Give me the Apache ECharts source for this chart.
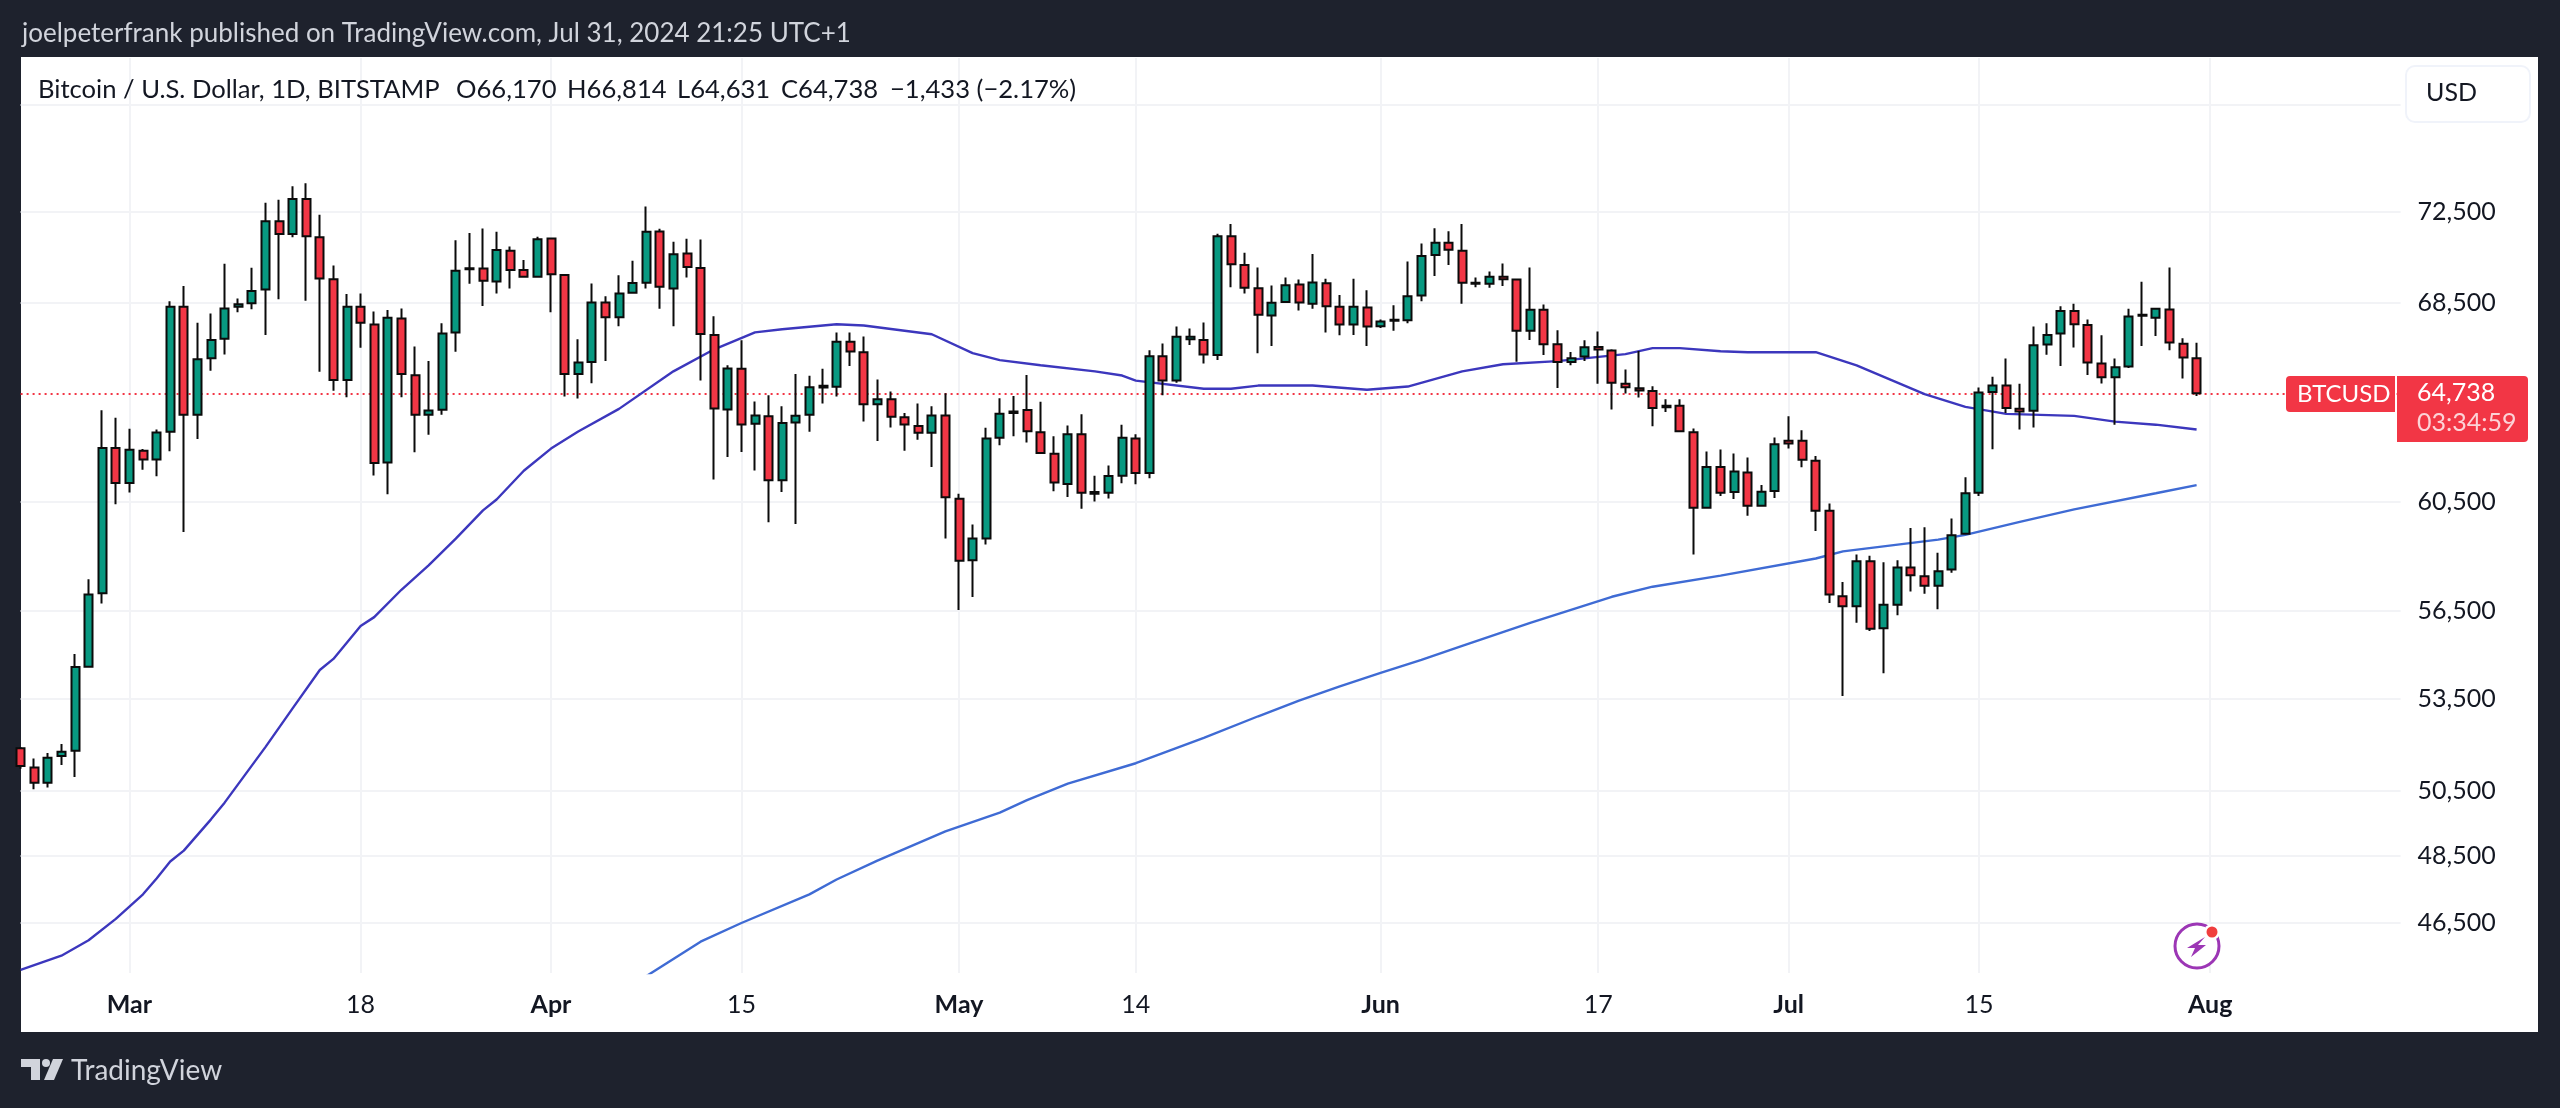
<!DOCTYPE html>
<html><head><meta charset="utf-8"><title>BTCUSD</title>
<style>html,body{margin:0;height:100%;background:#1e222d}#c{width:2560px;height:1108px}</style>
<script src="https://cdn.jsdelivr.net/npm/echarts@6/dist/echarts.min.js"></script>
</head><body><div id="c"></div>
<script>
// Daily candles [open, close, low, high], first row = 2024-02-22
const candles = [
[51860,51290,51200,51900],[51240,50760,50550,51530],[50760,51560,50610,51710],[51610,51750,51320,52000],[51780,54560,50940,55010],[54570,57090,54570,57640],[57140,62560,56770,64050],[62560,61210,60400,63760],
[61210,62490,60850,63320],[62450,62110,61720,62520],[62110,63170,61470,63290],[63200,68330,62440,68570],[68330,63880,59360,69220],[63880,66130,62910,67650],[66170,66930,65660,68050],[66980,68260,66320,70190],[68330,68440,68100,68690],[68480,69010,68230,70020],[69070,72080,67140,72920],[72080,71510,68650,73060],[71510,73090,71370,73670],[73090,71410,68590,73810],[71360,69550,65610,72370],[69520,65280,64840,70120],[65280,68330,64580,68880],[68330,67650,66600,68900],[67580,61980,61500,68130],[62000,67860,60780,68190],[67830,65520,64580,68260],[65470,63880,62400,66660],[63880,64040,63080,66060],[64070,67200,63880,67630],[67240,69890,66440,71230],[69950,70000,69320,71560],[69980,69450,68360,71760],[69420,70800,68900,71610],[70770,69920,69120,70950],[69920,69630,69630,70360],[69630,71280,69630,71390],
[71310,69730,68100,71310],[69700,65520,64610,69700],[65520,65990,64530,66960],[66020,68510,65140,69330],[68510,67890,66060,68780],[67890,68900,67510,69690],[68930,69350,68930,70320],[69370,71610,69120,72750],[71620,69190,68250,71740],[69120,70610,67510,71170],[70640,70050,69590,71300],[70010,67180,65260,71270],[67140,64120,61340,67930],[64080,65750,62210,65880],[65740,63490,62410,66920],[63520,63850,61690,64410],[63820,61310,59730,64660],[61310,63550,60870,64220],[63570,63840,59660,65520],[63880,64980,63200,65450],[65040,64970,64330,65740],[65000,66850,64610,67240],[66850,66450,65850,67240],[66420,64300,63610,67070],[64300,64500,62840,65300],[64500,63800,63370,64810],[63780,63490,62450,63940],[63430,63160,62890,64330],[63160,63850,61820,64220],[63850,60670,59120,64740],
[60610,58310,56540,60800],[58330,59120,57000,59640],[59120,62930,58900,63360],[62960,63910,62670,64540],[63940,64000,63020,64630],[64060,63220,62780,65480],[63180,62370,62370,64400],[62340,61230,60890,63020],[61170,63100,60680,63450],[63100,60840,60230,63900],[60870,60800,60510,61490],[60840,61480,60620,61880],[61490,62960,61200,63480],[62930,61590,61160,63100],[61590,66250,61390,66500],[66250,65260,64660,66780],[65260,67060,65160,67490],[66960,67060,66720,67410],[66930,66320,65950,67660],[66300,71410,66100,71520],[71410,70170,69170,71960],[70140,69150,68900,70680],[69130,67990,66380,70030],[67960,68500,66680,69250],[68540,69260,68540,69590],[69290,68510,68170,69510],[68460,69380,68250,70620],[69340,68350,67240,69540],[68330,67580,67130,68840],[67580,68330,67140,69540],[68300,67500,66680,69040],
[67510,67710,67430,67790],[67740,67780,67320,68400],[67760,68780,67630,70290],[68810,70530,68570,71090],[70580,71120,69660,71770],[71120,70810,70140,71630],[70770,69370,68460,71960],[69370,69320,69170,69590],[69320,69630,69150,69850],[69630,69520,69220,70200],[69510,67320,66030,69510],[67320,68210,66930,70030],[68210,66750,66300,68430],[66750,66020,64950,67340],[66020,66170,65880,66430],[66240,66630,66060,66920],[66640,66530,65120,67280],[66490,65160,64080,66540],[65120,64980,64730,65710],[64940,64850,64570,66470],[64830,64140,63420,65020],[64240,64180,63980,64500],[64240,63220,63220,64500],[63180,60270,58540,63330],[60270,61820,60270,62430],[61820,60840,60710,62500],[60870,61650,60600,62350],[61610,60350,59970,62190],[60350,60880,60350,61130],[60900,62710,60640,62970],
[62850,62740,62540,63820],[62850,62100,61810,63260],[62070,60160,59400,62250],[60160,57090,56790,60430],[57030,56670,53580,57540],[56670,58290,56090,58540],[58290,55880,55800,58490],[55900,56730,54350,58250],[56730,58060,56360,58330],[58060,57780,57200,59510],[57750,57400,57120,59540],[57400,57930,56570,58600],[57990,59240,57870,59870],[59300,60820,59300,61430],[60840,64770,60710,64970],[64790,65050,62510,65410],[65050,64140,63940,66160],[64110,64000,63290,65120],[64030,66710,63370,67490],[66740,67140,66310,67630],[67200,68150,65850,68350],[68150,67590,66620,68460],[67560,65990,65480,67790],[65950,65390,65130,67130],[65390,65800,63480,66160],[65830,67920,65770,68250],[67950,67990,66680,69410],[67860,68250,67100,68280],[68220,66820,66500,70030],[66770,66200,65340,67000],[66170,64738,64631,66814]
];
// Moving averages, read at the day index (0 = Feb 22) of each reading
const fastDays = [0,3,5,7,9,10,11,12,14,15,18,20,22,23,25,26,28,30,32,34,35,37,39,41,44,48,51,54,56,60,62,67,70,72,75,79,81,82,87,89,91,95,99,102,106,109,113,118,120,122,125,127,132,135,140,143,146,151,154,157,160];
const fastValues = [45160,45560,46000,46620,47340,47810,48320,48650,49610,50130,51900,53170,54460,54840,55980,56290,57260,58140,59120,60170,60580,61680,62540,63210,64110,65630,66540,67250,67380,67590,67540,67170,66380,66090,65880,65630,65460,65250,64920,64920,65050,65050,64880,65010,65630,65920,66050,66340,66590,66590,66460,66420,66420,65880,64700,64190,63910,63830,63600,63480,63290];
const slowDays = [46,50,53,58,60,63,68,72,74,77,82,87,91,94,97,100,103,106,111,117,120,125,132,134,141,143,147,151,157,160];
const slowValues = [44980,45960,46500,47340,47780,48350,49240,49820,50210,50730,51380,52200,52910,53430,53910,54360,54810,55290,56090,57010,57370,57770,58390,58650,59080,59260,59740,60210,60820,61130];
const lastClose = 64738;
const yGridTicks = [46500,48500,50500,53500,56500,60500,68500,72500,77500];
const yTickLabels = [46500,48500,50500,53500,56500,60500,68500,72500];
const xTickLabels = {8:'Mar',25:'18',39:'Apr',53:'15',69:'May',82:'14',100:'Jun',116:'17',130:'Jul',144:'15',161:'Aug'};
const monthLabels = ['Mar','Apr','May','Jun','Jul','Aug'];
const headerText = 'joelpeterfrank published on TradingView.com, Jul 31, 2024 21:25 UTC+1';
const legendTexts = ['Bitcoin / U.S. Dollar, 1D, BITSTAMP','O66,170','H66,814','L64,631','C64,738','−1,433 (−2.17%)'];

const dayCount = 176, categories = [];
for (let i = 0; i < dayCount; i++) {
  const d = new Date(Date.UTC(2024, 1, 22 + i));
  categories.push(d.toISOString().slice(0, 10));
}
const FONT = 'Lato', DARK = '#131722', RED = '#f23645', GREEN = '#089981', GRID = '#f2f3f6';
const pairs = (xs, ys) => xs.map((x, i) => [x, ys[i]]);
const isTick = i => xTickLabels[i] !== undefined;
const txt = (x, y, text, fill, size, extra) => Object.assign(
  {type:'text', x, y, z:20, style:{text, fill, font:size+'px '+FONT, textVerticalAlign:'middle'}}, extra||{});
const chart = echarts.init(document.getElementById('c'));
chart.setOption({
  animation:false, backgroundColor:'#1e222d',
  grid:{left:20.6,right:159.4,top:58,bottom:135},
  xAxis:{type:'category',data:categories,boundaryGap:false,
    axisLine:{show:false},axisTick:{show:false,interval:i=>isTick(i)},
    splitLine:{show:true,interval:i=>isTick(i),lineStyle:{color:GRID,width:2}},
    axisLabel:{interval:i=>isTick(i),hideOverlap:false,margin:19,color:DARK,fontFamily:FONT,fontSize:25,
      formatter:(v,i)=>{const t=xTickLabels[i]; if(t===undefined) return ''; return monthLabels.includes(t)?'{b|'+t+'}':t;},
      rich:{b:{fontFamily:FONT,fontSize:25,fontWeight:'bold',color:DARK}}}},
  yAxis:{type:'log',position:'right',min:45070,max:79820,
    axisLine:{show:false},axisTick:{show:false,customValues:yGridTicks},
    splitLine:{show:true,lineStyle:{color:GRID,width:2}},
    axisLabel:{customValues:yTickLabels,margin:17,color:DARK,fontFamily:FONT,fontSize:25,
      formatter:v=>Math.round(v).toLocaleString('en-US')}},
  series:[
    {type:'line',name:'fast',data:pairs(fastDays,fastValues),showSymbol:false,z:1,lineStyle:{color:'#3c37bd',width:2.4}},
    {type:'line',name:'slow',data:pairs(slowDays,slowValues),showSymbol:false,z:1,lineStyle:{color:'#3f6bd4',width:2.4}},
    {type:'candlestick',name:'BTCUSD',data:candles,barWidth:8.5,z:2,clip:true,
      itemStyle:{color:GREEN,color0:RED,borderColor:'#0b0b0b',borderColor0:'#0b0b0b',borderWidth:2},
      markLine:{silent:true,symbol:'none',z:1,label:{show:false},
        lineStyle:{color:RED,type:[2,4],width:2},data:[{yAxis:lastClose}]}}
  ],
  graphic:[
    {type:'rect',z:-5,shape:{x:21,y:57,width:2517,height:975},style:{fill:'#ffffff'}},
    txt(22,34,headerText,'#d1d4dc',26),
    txt(38,90,legendTexts[0],DARK,25.6),
    txt(456,90,legendTexts[1],DARK,25.6),txt(567,90,legendTexts[2],DARK,25.6),
    txt(677,90,legendTexts[3],DARK,25.6),txt(781,90,legendTexts[4],DARK,25.6),txt(890,90,legendTexts[5],DARK,25.6),
    {type:'rect',z:15,shape:{x:2406,y:66,width:124,height:56,r:9},style:{fill:'#ffffff',stroke:'#f0f3fa',lineWidth:2}},
    txt(2426,93,'USD',DARK,25),
    {type:'rect',z:15,shape:{x:2286,y:376,width:109,height:36,r:[4,0,0,4]},style:{fill:RED}},
    {type:'rect',z:15,shape:{x:2397,y:376,width:131,height:66,r:[0,4,4,0]},style:{fill:RED}},
    txt(2297,394,'BTCUSD','#ffffff',24),
    txt(2417,393,'64,738','#ffffff',25),
    txt(2417,423,'03:34:59','#fcd3d7',25),
    // TradingView logo
    {type:'polygon',z:15,shape:{points:[[21,1059],[40,1059],[40,1080],[31,1080],[31,1067],[21,1067]]},style:{fill:'#d1d4dc'}},
    {type:'circle',z:15,shape:{cx:46,cy:1063,r:4},style:{fill:'#d1d4dc'}},
    {type:'polygon',z:15,shape:{points:[[53,1059],[63,1059],[54,1080],[44,1080]]},style:{fill:'#d1d4dc'}},
    txt(71,1071,'TradingView','#d1d4dc',28),
    // Lightning badge
    {type:'circle',z:15,shape:{cx:2197,cy:946,r:22},style:{fill:'#ffffff',stroke:'#9c36b5',lineWidth:3}},
    {type:'polygon',z:16,shape:{points:[[2205,937],[2187,948],[2195,948],[2191,957],[2206,945],[2198,945]]},style:{fill:'#9c36b5'}},
    {type:'circle',z:16,shape:{cx:2212,cy:932,r:8},style:{fill:'#ffffff'}},
    {type:'circle',z:17,shape:{cx:2212,cy:932,r:5.5},style:{fill:'#f03e3e'}}
  ]
});
</script></body></html>
